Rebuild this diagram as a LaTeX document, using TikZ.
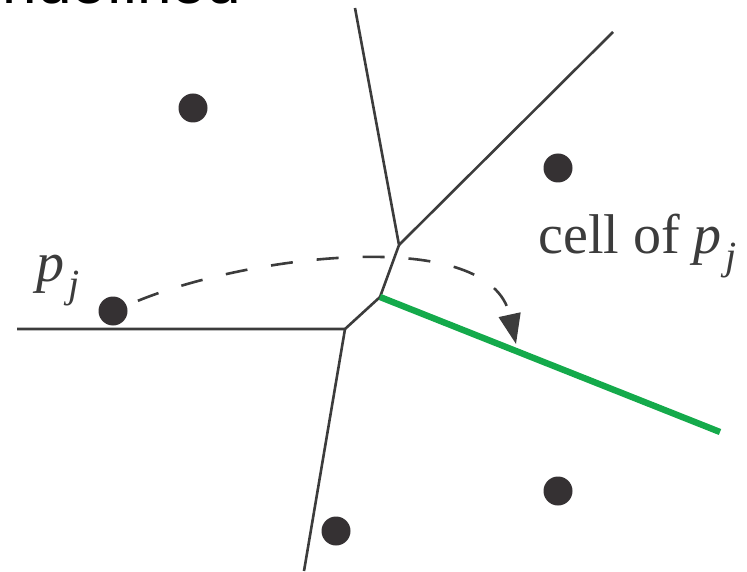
\documentclass[tikz,border=0pt]{standalone}
\usepackage{fontspec}
\setmainfont{Liberation Serif}
\newfontfamily\headfont{Liberation Sans}
\usetikzlibrary{arrows.meta}
\definecolor{edgegray}{HTML}{3C3C3C}
\definecolor{sitedark}{HTML}{353133}
\definecolor{cellgreen}{HTML}{14AA4B}
\tikzset{
    site/.style={circle, fill=sitedark, minimum size=14.5pt, inner sep=0pt},
    vedge/.style={draw=edgegray, line width=1.3pt},
    hiedge/.style={draw=cellgreen, line width=3.2pt},
    walk/.style={draw=edgegray, line width=1.3pt, dash pattern=on 11pt off 12pt,
        -{Triangle[length=15pt,width=11pt]}},
    lbl/.style={font=\fontsize{28}{32}\selectfont, text=edgegray, inner sep=0pt},
}
\newcommand{\pjtext}{\textit{p}\kern2pt\raisebox{-0.3em}{\fontsize{20}{24}\selectfont\textit{j}}}

\begin{document}
\begin{tikzpicture}[x=0.5pt, y=-0.5pt]
    \useasboundingbox (0,0) rectangle (747,571);
    \clip (0,0) rectangle (747,571);
    % cut-off heading
    \node[anchor=base east, inner sep=0pt, font=\headfont\fontsize{31}{36}\selectfont] (hdr) at (241,4) {undefined};
    % voronoi vertices and far ends
    \coordinate (va) at (399,245);
    \coordinate (vb) at (380,297);
    \coordinate (vc) at (345,329);
    \coordinate (topl) at (355,8);
    \coordinate (topr) at (613,32);
    \coordinate (farl) at (17,329);
    \coordinate (farb) at (304,571);
    \coordinate (farg) at (720,432);
    \draw[vedge] (topl) -- (va) -- (vb) -- (vc) -- (farl);
    \draw[vedge] (va) -- (topr);
    \draw[vedge] (vc) -- (farb);
    \draw[hiedge] (vb) -- (farg);
    % sites
    \node[site] (s1) at (193,108) {};
    \node[site] (s2) at (558,168) {};
    \node[site] (pj) at (113,311) {};
    \node[site] (s4) at (558,491) {};
    \node[site] (s5) at (336,531) {};
    % labels
    \node[lbl, anchor=base west] (pjlab) at (36,281) {\pjtext};
    \node[lbl, anchor=base west] (celllab) at (538,253) {cell of \pjtext};
    % walk into the cell
    \coordinate (tip) at (516,344);
    \draw[walk, shorten <=6pt] (pj) .. controls (250,255) and (490,225) .. (tip);
\end{tikzpicture}
\end{document}
